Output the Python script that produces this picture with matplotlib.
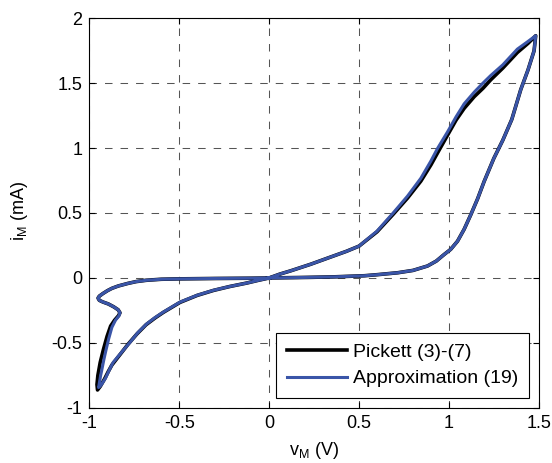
import matplotlib
matplotlib.use("Agg")
import matplotlib.pyplot as plt

plt.rcParams['font.family'] = ['Liberation Sans', 'DejaVu Sans']
plt.rcParams['mathtext.default'] = 'regular'

# Pickett model (3)-(7): closed pinched hysteresis loop (v in V, i in mA)
pickett_v = [0.0, 0.06, 0.12, 0.23, 0.34, 0.43, 0.5, 0.6, 0.69, 0.77, 0.844, 0.9, 0.94, 0.993,
             1.04, 1.085, 1.141, 1.19, 1.233, 1.3, 1.381, 1.44, 1.483,
             1.474, 1.44, 1.4, 1.35, 1.3, 1.25, 1.196, 1.16, 1.122, 1.085, 1.048, 1.01, 0.974,
             0.93, 0.881, 0.8, 0.715, 0.6, 0.53, 0.35, 0.2, 0.0,
             -0.1, -0.3, -0.5, -0.6, -0.684, -0.74, -0.786, -0.84, -0.875, -0.9, -0.925, -0.945,
             -0.952, -0.945, -0.925, -0.895, -0.865, -0.84, -0.83, -0.838, -0.86, -0.882,
             -0.902, -0.922, -0.94, -0.953, -0.958, -0.955,
             -0.94, -0.915, -0.895, -0.875, -0.83, -0.785, -0.735, -0.685, -0.635, -0.589,
             -0.496, -0.4, -0.31, -0.22, -0.124, -0.06, 0.0]
pickett_i = [0.0, 0.03, 0.055, 0.105, 0.16, 0.205, 0.245, 0.355, 0.49, 0.615, 0.745, 0.87, 0.97, 1.1,
             1.215, 1.305, 1.395, 1.46, 1.525, 1.615, 1.735, 1.805, 1.864,
             1.748, 1.6, 1.45, 1.22, 1.06, 0.92, 0.742, 0.61, 0.487, 0.375, 0.283, 0.22, 0.181,
             0.13, 0.092, 0.058, 0.04, 0.025, 0.017, 0.008, 0.004, 0.0,
             -0.002, -0.004, -0.007, -0.01, -0.018, -0.028, -0.042, -0.062, -0.08, -0.098, -0.12, -0.14,
             -0.155, -0.172, -0.185, -0.2, -0.222, -0.245, -0.268, -0.29, -0.325, -0.37,
             -0.45, -0.55, -0.65, -0.75, -0.82, -0.862,
             -0.835, -0.775, -0.72, -0.67, -0.59, -0.51, -0.43, -0.36, -0.308, -0.265,
             -0.188, -0.134, -0.096, -0.066, -0.039, -0.018, 0.0]

# Approximation (19)
approx_v = [0.0, 0.06, 0.12, 0.23, 0.34, 0.43, 0.5, 0.6, 0.69, 0.77, 0.844, 0.9, 0.937, 0.993,
            1.04, 1.085, 1.141, 1.19, 1.233, 1.3, 1.381, 1.44, 1.483,
            1.474, 1.44, 1.4, 1.35, 1.3, 1.25, 1.196, 1.16, 1.122, 1.085, 1.048, 1.01, 0.974,
            0.93, 0.881, 0.8, 0.715, 0.6, 0.53, 0.35, 0.2, 0.0,
            -0.1, -0.3, -0.5, -0.6, -0.684, -0.74, -0.786, -0.84, -0.875, -0.9, -0.925, -0.945,
            -0.952, -0.945, -0.925, -0.895, -0.865, -0.84, -0.83, -0.835, -0.855, -0.875,
            -0.893, -0.907, -0.919, -0.93, -0.938, -0.945, -0.949,
            -0.935, -0.91, -0.89, -0.868, -0.82, -0.774, -0.73, -0.681, -0.635, -0.589,
            -0.496, -0.4, -0.31, -0.22, -0.124, -0.06, 0.0]
approx_i = [0.0, 0.03, 0.055, 0.105, 0.16, 0.205, 0.245, 0.36, 0.5, 0.63, 0.767, 0.9, 0.997, 1.125,
            1.24, 1.34, 1.43, 1.5, 1.558, 1.64, 1.761, 1.82, 1.864,
            1.748, 1.6, 1.45, 1.22, 1.06, 0.92, 0.742, 0.61, 0.487, 0.375, 0.283, 0.22, 0.181,
            0.13, 0.092, 0.058, 0.04, 0.025, 0.017, 0.008, 0.004, 0.0,
            -0.002, -0.004, -0.007, -0.01, -0.018, -0.028, -0.042, -0.062, -0.08, -0.098, -0.12, -0.14,
            -0.155, -0.172, -0.185, -0.2, -0.222, -0.245, -0.268, -0.29, -0.325, -0.38,
            -0.469, -0.55, -0.624, -0.7, -0.753, -0.81, -0.843,
            -0.825, -0.77, -0.71, -0.65, -0.57, -0.495, -0.42, -0.353, -0.305, -0.263,
            -0.186, -0.133, -0.095, -0.066, -0.039, -0.018, 0.0]

x_ticks = [-1, -0.5, 0, 0.5, 1, 1.5]
y_ticks = [-1, -0.5, 0, 0.5, 1, 1.5, 2]
x_ticklabels = ['-1', '-0.5', '0', '0.5', '1', '1.5']
y_ticklabels = ['-1', '-0.5', '0', '0.5', '1', '1.5', '2']

fig = plt.figure(figsize=(5.52, 4.63), dpi=100)
ax = fig.add_axes([0.162, 0.119, 0.814, 0.842])

ax.plot(pickett_v, pickett_i, color='black', lw=2.6, label='Pickett (3)-(7)',
        solid_joinstyle='round')
ax.plot(approx_v, approx_i, color='#3A55A8', lw=2.2, label='Approximation (19)',
        solid_joinstyle='round')

ax.set_xlim(-1, 1.5)
ax.set_ylim(-1, 2)
ax.set_xticks(x_ticks)
ax.set_xticklabels(x_ticklabels)
ax.set_yticks(y_ticks)
ax.set_yticklabels(y_ticklabels)
ax.tick_params(direction='in', top=True, right=True, labelsize=13, length=4, width=0.8, pad=5)
ax.grid(True, color='#555555', linestyle=(0, (7.2, 7.7)), lw=0.75)
for s in ax.spines.values():
    s.set_linewidth(0.8)

ax.set_xlabel('v$_M$ (V)', fontsize=13)
ax.set_ylabel('i$_M$ (mA)', fontsize=13)
ax.xaxis.set_label_coords(0.5, -0.108)
ax.xaxis.label.set_verticalalignment('center')
ax.yaxis.set_label_coords(-0.155, 0.505)
ax.yaxis.label.set_verticalalignment('center')

leg = ax.legend(loc='lower right', fontsize=14, frameon=True, fancybox=False,
                edgecolor='black', framealpha=1, handlelength=3.1, handletextpad=0.3,
                borderaxespad=0.5, labelspacing=0.45, borderpad=0.55)
leg.get_frame().set_linewidth(0.8)

fig.savefig('out.png', dpi=100)
